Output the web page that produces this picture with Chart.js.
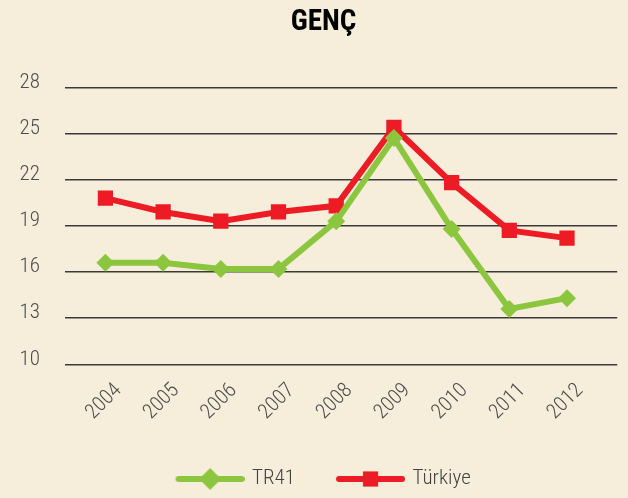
<!DOCTYPE html>
<html>
<head>
<meta charset="utf-8">
<script src="https://cdn.jsdelivr.net/npm/chart.js@4/dist/chart.umd.min.js"></script>
<style>
  html, body { margin: 0; padding: 0; background: #f6eedb; }
  #wrap { width: 628px; height: 498px; position: relative; }
</style>
</head>
<body>
<div id="wrap"><canvas id="chart"></canvas></div>
<script>
// Years on the horizontal axis
const years = [2004, 2005, 2006, 2007, 2008, 2009, 2010, 2011, 2012];
// Series values
const tr41    = [16.6, 16.6, 16.2, 16.2, 19.3, 24.7, 18.8, 13.6, 14.3];
const turkiye = [20.8, 19.9, 19.3, 19.9, 20.3, 25.4, 21.8, 18.7, 18.2];
// Vertical axis tick values
const yTicks = [10, 13, 16, 19, 22, 25, 28];
const seriesNames = ['TR41', 'Türkiye'];
const titleText = 'GENÇ';

const GREEN = '#8cc63f';
const RED = '#ed1c24';
const FONT = '"Roboto Condensed", Roboto, sans-serif';

// Legend swatch: a thick rounded line with the series marker in the middle
function legendSwatch(color, shape) {
  const c = document.createElement('canvas');
  c.width = 92; c.height = 26;
  const g = c.getContext('2d');
  const cy = 13, mx = 57.5;
  g.strokeStyle = color; g.lineWidth = 6; g.lineCap = 'round';
  g.beginPath(); g.moveTo(26, cy); g.lineTo(89, cy); g.stroke();
  g.fillStyle = color;
  g.beginPath();
  if (shape === 'diamond') {
    const r = 11;
    g.moveTo(mx - r, cy); g.lineTo(mx, cy - r); g.lineTo(mx + r, cy); g.lineTo(mx, cy + r);
  } else {
    const h = 7.6;
    g.rect(mx - h, cy - h, 2 * h, 2 * h);
  }
  g.closePath(); g.fill();
  return c;
}
const swatches = [legendSwatch(GREEN, 'diamond'), legendSwatch(RED, 'square')];

const toPoints = arr => arr.map((v, i) => ({ x: years[i], y: v }));

// Title text drawn above the plot
const titlePlugin = {
  id: 'titleText',
  afterDraw(chart) {
    const ctx = chart.ctx;
    ctx.save();
    ctx.font = 'bold 29px ' + FONT;
    ctx.fillStyle = '#000';
    ctx.textAlign = 'center';
    ctx.textBaseline = 'alphabetic';
    ctx.fillText(titleText, 323.5, 29.5);
    ctx.restore();
  }
};

const tickFont = { family: FONT, size: 21, weight: 300 };

new Chart(document.getElementById('chart'), {
  type: 'line',
  data: {
    datasets: [
      {
        label: seriesNames[0],
        data: toPoints(tr41),
        borderColor: GREEN,
        backgroundColor: GREEN,
        borderWidth: 6,
        pointStyle: 'rectRot',
        pointRadius: 9,
        pointBorderWidth: 0,
        pointBackgroundColor: GREEN,
        tension: 0
      },
      {
        label: seriesNames[1],
        data: toPoints(turkiye),
        borderColor: RED,
        backgroundColor: RED,
        borderWidth: 6,
        pointStyle: 'rect',
        pointRadius: 10.8,
        pointBorderWidth: 0,
        pointBackgroundColor: RED,
        tension: 0
      }
    ]
  },
  options: {
    responsive: true,
    maintainAspectRatio: false,
    animation: false,
    events: [],
    layout: { padding: { top: 87.3, right: 1.6, left: 0, bottom: 0 } },
    scales: {
      x: {
        type: 'linear',
        min: 2003.3,
        max: 2012.87,
        grid: { display: false },
        border: { display: false },
        afterBuildTicks: s => { s.ticks = years.map(v => ({ value: v })); },
        afterFit: s => { s.height = 83.2; s.paddingLeft = 0; s.paddingRight = 0; },
        ticks: {
          autoSkip: false,
          minRotation: 45,
          maxRotation: 45,
          padding: 6,
          labelOffset: 13,
          callback: v => String(v),
          font: tickFont,
          color: '#4d4d4d'
        }
      },
      y: {
        min: 10,
        max: 28,
        afterBuildTicks: s => { s.ticks = yTicks.map(v => ({ value: v })); },
        afterFit: s => { s.width = 65; },
        grid: { color: '#3a3a3a', lineWidth: 1.5, drawTicks: false },
        border: { display: false },
        ticks: {
          padding: 25,
          labelOffset: -5,
          font: tickFont,
          color: '#4d4d4d'
        }
      }
    },
    plugins: {
      title: { display: false },
      tooltip: { enabled: false },
      legend: {
        position: 'bottom',
        maxHeight: 50.5,
        labels: {
          usePointStyle: true,
          pointStyleWidth: 86,
          padding: 21,
          color: '#444',
          font: tickFont,
          generateLabels(chart) {
            const items = Chart.defaults.plugins.legend.labels.generateLabels(chart);
            items.forEach((it, i) => { it.pointStyle = swatches[i]; });
            return items;
          }
        }
      }
    }
  },
  plugins: [titlePlugin]
});
</script>
</body>
</html>
